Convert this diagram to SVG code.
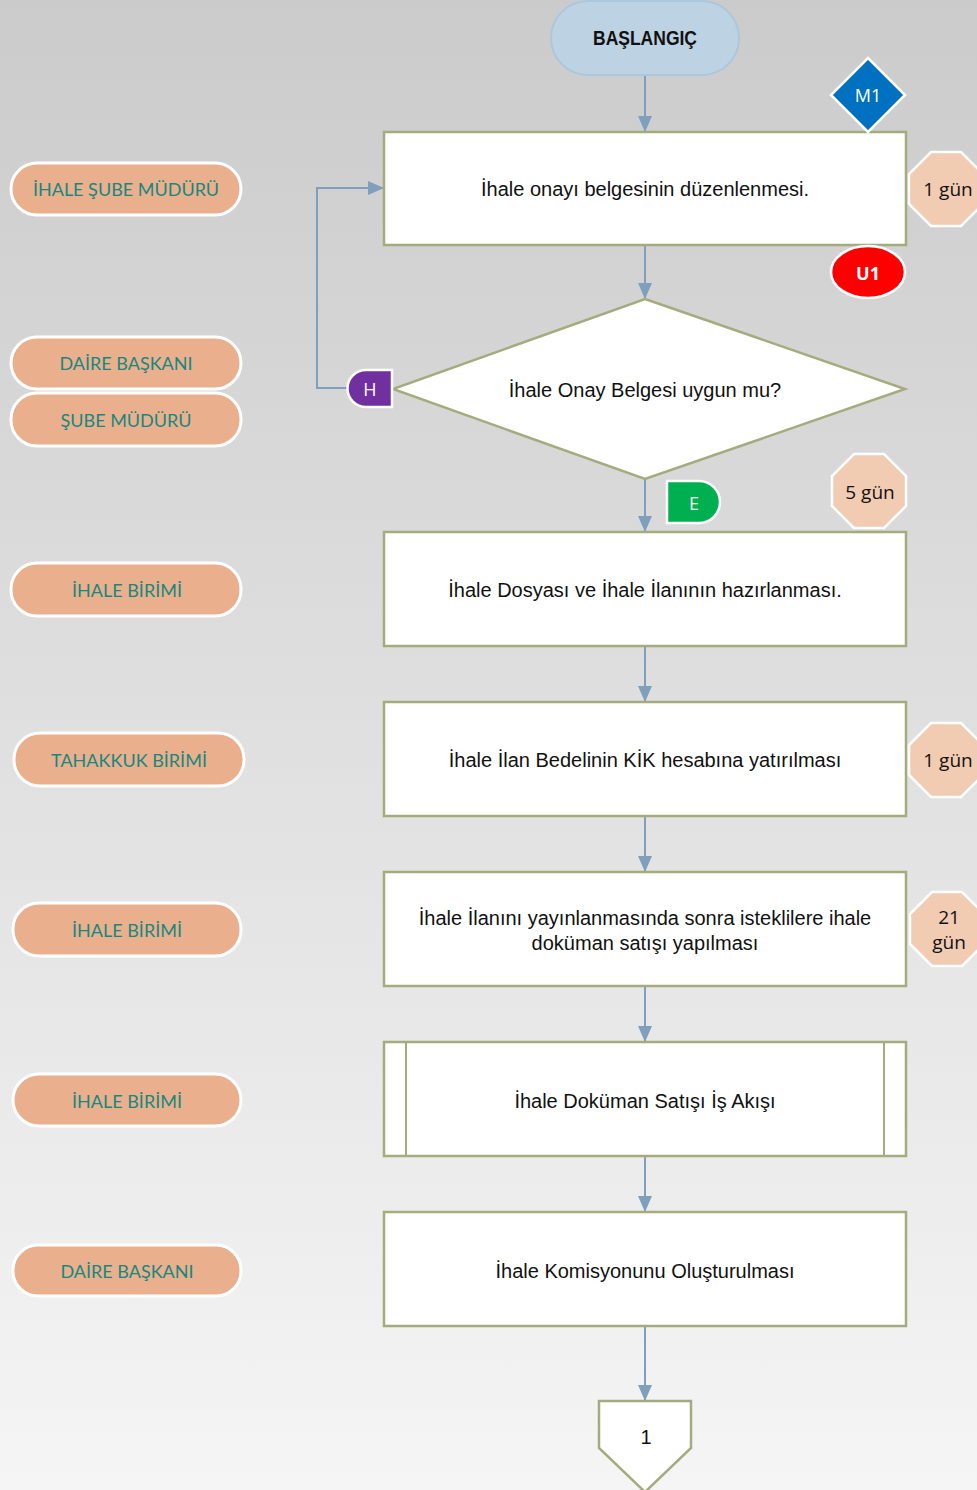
<svg xmlns="http://www.w3.org/2000/svg" width="977" height="1490" viewBox="0 0 977 1490">
<defs>
<linearGradient id="bg" x1="0" y1="0" x2="0" y2="1">
<stop offset="0" stop-color="#cbcbcb"/>
<stop offset="1" stop-color="#f5f5f5"/>
</linearGradient>
<marker id="arr" markerWidth="16" markerHeight="16" viewBox="0 0 16 16" refX="15" refY="8" orient="auto" markerUnits="userSpaceOnUse">
<path d="M0,1 L16,8 L0,15 Z" fill="#7f9fbd"/>
</marker>
<path id="oct" d="M-15,-37 L15,-37 L37,-15 L37,15 L15,37 L-15,37 L-37,15 L-37,-15 Z"/>
</defs>
<style>
.box{fill:#fff;stroke:#a6ab7e;stroke-width:2.5}
.t{font-family:"Liberation Sans",Arial,sans-serif;font-size:20px;fill:#111;text-anchor:middle;dominant-baseline:central}
.lab rect{fill:#eab08e;stroke:#fff;stroke-width:3}
.lab text{font-family:Lato,"Open Sans",sans-serif;font-size:18px;fill:#17877f;text-anchor:middle;dominant-baseline:central}
.oct use{fill:#f1cbb2;stroke:#fff;stroke-width:2.5}
.oct text{font-family:"Open Sans","Noto Sans",sans-serif;font-size:19px;fill:#111;text-anchor:middle;dominant-baseline:central}
.con{fill:none;stroke:#7f9fbd;stroke-width:2}
.w{font-family:"Open Sans","Noto Sans",sans-serif;font-size:18px;fill:#fff;text-anchor:middle;dominant-baseline:central}
</style>
<rect x="0" y="0" width="977" height="1490" fill="url(#bg)"/>

<g id="connectors">
<path class="con" d="M645,76 V131" marker-end="url(#arr)"/>
<path class="con" d="M645,245 V298" marker-end="url(#arr)"/>
<path class="con" d="M347,388 H317 V188 H383" marker-end="url(#arr)"/>
<path class="con" d="M645,479 V531" marker-end="url(#arr)"/>
<path class="con" d="M645,646 V701" marker-end="url(#arr)"/>
<path class="con" d="M645,816 V871" marker-end="url(#arr)"/>
<path class="con" d="M645,986 V1041" marker-end="url(#arr)"/>
<path class="con" d="M645,1156 V1211" marker-end="url(#arr)"/>
<path class="con" d="M645,1326 V1400" marker-end="url(#arr)"/>
</g>

<g id="start">
<rect x="551" y="1" width="188" height="74" rx="37" fill="#bdd3e3" stroke="#abc7de" stroke-width="2"/>
<text x="645" y="38" font-family="Liberation Sans,Arial,sans-serif" font-size="20" font-weight="bold" fill="#111" text-anchor="middle" dominant-baseline="central" textLength="104" lengthAdjust="spacingAndGlyphs">BAŞLANGIÇ</text>
</g>

<g id="box1">
<rect class="box" x="384" y="132" width="522" height="113"/>
<text class="t" x="645" y="189">İhale onayı belgesinin düzenlenmesi.</text>
</g>
<g id="m1">
<path d="M868,58 L905,95 L868,132 L831,95 Z" fill="#0070c0" stroke="#fff" stroke-width="2.5"/>
<text class="w" x="868" y="95">M1</text>
</g>
<g id="u1">
<ellipse cx="868" cy="272" rx="37" ry="26" fill="#ff0000" stroke="#fff" stroke-width="2.5"/>
<text class="w" x="868" y="273" font-weight="bold" font-size="21">U1</text>
</g>
<g id="d1" class="oct">
<use href="#oct" x="946" y="189"/>
<text x="948" y="189">1 gün</text>
</g>

<g id="decision">
<path class="box" d="M645,299 L905,389 L645,479 L393,389 Z"/>
<text class="t" x="645" y="390">İhale Onay Belgesi uygun mu?</text>
</g>
<g id="h">
<path d="M392,370 H366 A18,18 0 0 0 366,407 H392 Z" fill="#7030a0" stroke="#fff" stroke-width="2.5"/>
<text class="w" x="370" y="389">H</text>
</g>
<g id="e">
<path d="M667,481 H699 A21,21 0 0 1 699,523 H667 Z" fill="#00b050" stroke="#fff" stroke-width="2.5"/>
<text class="w" x="694" y="503">E</text>
</g>
<g id="d5" class="oct">
<use href="#oct" x="869" y="491"/>
<text x="870" y="492">5 gün</text>
</g>

<g id="box2">
<rect class="box" x="384" y="532" width="522" height="114"/>
<text class="t" x="645" y="590">İhale Dosyası ve İhale İlanının hazırlanması.</text>
</g>

<g id="box3">
<rect class="box" x="384" y="702" width="522" height="114"/>
<text class="t" x="645" y="760">İhale İlan Bedelinin KİK hesabına yatırılması</text>
</g>
<g id="d1b" class="oct">
<use href="#oct" x="946" y="760"/>
<text x="948" y="760">1 gün</text>
</g>

<g id="box4">
<rect class="box" x="384" y="872" width="522" height="114"/>
<text class="t" x="645" y="918">İhale İlanını yayınlanmasında sonra isteklilere ihale</text>
<text class="t" x="645" y="943">doküman satışı yapılması</text>
</g>
<g id="d21" class="oct">
<use href="#oct" x="947" y="929"/>
<text x="949" y="917">21</text>
<text x="949" y="942">gün</text>
</g>

<g id="box5">
<rect class="box" x="384" y="1042" width="522" height="114"/>
<line x1="406" y1="1042" x2="406" y2="1156" stroke="#a6ab7e" stroke-width="2"/>
<line x1="884" y1="1042" x2="884" y2="1156" stroke="#a6ab7e" stroke-width="2"/>
<text class="t" x="645" y="1101">İhale Doküman Satışı İş Akışı</text>
</g>

<g id="box6">
<rect class="box" x="384" y="1212" width="522" height="114"/>
<text class="t" x="645" y="1271">İhale Komisyonunu Oluşturulması</text>
</g>

<g id="offpage">
<path class="box" d="M599,1401 H691 V1448 L645,1492 L599,1448 Z"/>
<text class="t" x="646" y="1437">1</text>
</g>

<g id="lab1" class="lab"><rect x="11" y="163" width="230" height="52" rx="26"/><text x="126" y="189">İHALE ŞUBE MÜDÜRÜ</text></g>
<g id="lab2" class="lab"><rect x="11" y="337" width="230" height="52" rx="26"/><text x="126" y="363">DAİRE BAŞKANI</text></g>
<g id="lab3" class="lab"><rect x="11" y="393" width="230" height="53" rx="26"/><text x="126" y="420">ŞUBE MÜDÜRÜ</text></g>
<g id="lab4" class="lab"><rect x="11" y="563" width="230" height="53" rx="26"/><text x="127" y="590">İHALE BİRİMİ</text></g>
<g id="lab5" class="lab"><rect x="14" y="733" width="230" height="53" rx="26"/><text x="129" y="760">TAHAKKUK BİRİMİ</text></g>
<g id="lab6" class="lab"><rect x="13" y="903" width="228" height="53" rx="26"/><text x="127" y="930">İHALE BİRİMİ</text></g>
<g id="lab7" class="lab"><rect x="13" y="1074" width="228" height="52" rx="26"/><text x="127" y="1101">İHALE BİRİMİ</text></g>
<g id="lab8" class="lab"><rect x="13" y="1245" width="228" height="51" rx="25"/><text x="127" y="1271">DAİRE BAŞKANI</text></g>
</svg>
